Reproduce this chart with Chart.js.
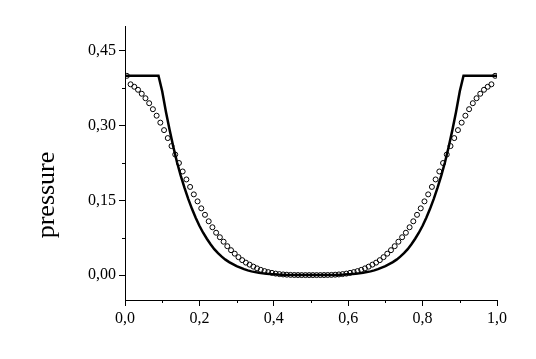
<!DOCTYPE html>
<html>
<head>
<meta charset="utf-8">
<script src="https://cdn.jsdelivr.net/npm/chart.js@4"></script>
<style>
  body { margin: 0; background: #fff; }
  canvas { display: block; }
</style>
</head>
<body>
<canvas id="pressureChart" width="536" height="359"></canvas>
<script>
// line: exact solution, x positions and pressure values
const lineX = [0, 0.09,
  0.10, 0.11, 0.12, 0.13, 0.14, 0.15, 0.16, 0.17, 0.18, 0.19,
  0.20, 0.21, 0.22, 0.23, 0.24, 0.25, 0.26, 0.27, 0.28, 0.29,
  0.30, 0.31, 0.32, 0.33, 0.34, 0.35, 0.36, 0.37, 0.38, 0.39,
  0.40, 0.41, 0.42, 0.43, 0.44, 0.45, 0.46, 0.47, 0.48, 0.49,
  0.50, 0.51, 0.52, 0.53, 0.54, 0.55, 0.56, 0.57, 0.58, 0.59,
  0.60, 0.61, 0.62, 0.63, 0.64, 0.65, 0.66, 0.67, 0.68, 0.69,
  0.70, 0.71, 0.72, 0.73, 0.74, 0.75, 0.76, 0.77, 0.78, 0.79,
  0.80, 0.81, 0.82, 0.83, 0.84, 0.85, 0.86, 0.87, 0.88, 0.89,
  0.90, 0.91, 1.0];
const lineP = [0.4, 0.4,
  0.369, 0.328, 0.291, 0.257, 0.226, 0.199, 0.175, 0.153, 0.133, 0.115,
  0.099, 0.085, 0.073, 0.062, 0.052, 0.044, 0.037, 0.031, 0.026, 0.022,
  0.018, 0.015, 0.012, 0.0095, 0.0075, 0.006, 0.0046, 0.0035, 0.0027, 0.002,
  0.0015, 0.001, 0.0007, 0.0004, 0.0002, 0.0001, 0, 0, 0, 0,
  0, 0, 0, 0, 0, 0.0001, 0.0002, 0.0004, 0.0007, 0.001,
  0.0015, 0.002, 0.0027, 0.0035, 0.0046, 0.006, 0.0075, 0.0095, 0.012, 0.015,
  0.018, 0.022, 0.026, 0.031, 0.037, 0.044, 0.052, 0.062, 0.073, 0.085,
  0.099, 0.115, 0.133, 0.153, 0.175, 0.199, 0.226, 0.257, 0.291, 0.328,
  0.369, 0.4, 0.4];

// circles: numerical solution
const circleX = [
  0.005, 0.015, 0.025, 0.035, 0.045, 0.055, 0.065, 0.075, 0.085, 0.095,
  0.105, 0.115, 0.125, 0.135, 0.145, 0.155, 0.165, 0.175, 0.185, 0.195,
  0.205, 0.215, 0.225, 0.235, 0.245, 0.255, 0.265, 0.275, 0.285, 0.295,
  0.305, 0.315, 0.325, 0.335, 0.345, 0.355, 0.365, 0.375, 0.385, 0.395,
  0.405, 0.415, 0.425, 0.435, 0.445, 0.455, 0.465, 0.475, 0.485, 0.495,
  0.505, 0.515, 0.525, 0.535, 0.545, 0.555, 0.565, 0.575, 0.585, 0.595,
  0.605, 0.615, 0.625, 0.635, 0.645, 0.655, 0.665, 0.675, 0.685, 0.695,
  0.705, 0.715, 0.725, 0.735, 0.745, 0.755, 0.765, 0.775, 0.785, 0.795,
  0.805, 0.815, 0.825, 0.835, 0.845, 0.855, 0.865, 0.875, 0.885, 0.895,
  0.905, 0.915, 0.925, 0.935, 0.945, 0.955, 0.965, 0.975, 0.985, 0.995];
const circleP = [
  0.400, 0.383, 0.378, 0.372, 0.364, 0.355, 0.345, 0.333, 0.320, 0.306,
  0.291, 0.275, 0.259, 0.242, 0.225, 0.208, 0.192, 0.177, 0.162, 0.148,
  0.134, 0.121, 0.108, 0.096, 0.085, 0.076, 0.067, 0.058, 0.050, 0.043,
  0.036, 0.030, 0.025, 0.021, 0.017, 0.0135, 0.0105, 0.008, 0.006, 0.0045,
  0.003, 0.002, 0.0013, 0.0008, 0.0004, 0.0002, 0.0001, 0, 0, 0,
  0, 0, 0, 0.0001, 0.0002, 0.0004, 0.0008, 0.0013, 0.002, 0.003,
  0.0045, 0.006, 0.008, 0.0105, 0.0135, 0.017, 0.021, 0.025, 0.030, 0.036,
  0.043, 0.050, 0.058, 0.067, 0.076, 0.085, 0.096, 0.108, 0.121, 0.134,
  0.148, 0.162, 0.177, 0.192, 0.208, 0.225, 0.242, 0.259, 0.275, 0.291,
  0.306, 0.320, 0.333, 0.345, 0.355, 0.364, 0.372, 0.378, 0.383, 0.400];

const xMajor = [0, 0.2, 0.4, 0.6, 0.8, 1.0];
const xMinor = [0.1, 0.3, 0.5, 0.7, 0.9];
const yMajor = [0, 0.15, 0.30, 0.45];
const yMinor = [0.075, 0.225, 0.375];
const yLabel = 'pressure';

const toPoints = (xs, ys) => xs.map((x, i) => ({ x: x, y: ys[i] }));
const commaLabel = digits => value => value.toFixed(digits).replace('.', ',');

const axisFont = { family: '"Liberation Serif", "Times New Roman", serif', size: 16 };

const minorTicksAndLabel = {
  id: 'minorTicksAndLabel',
  afterDraw(chart) {
    const ctx = chart.ctx;
    const xs = chart.scales.x;
    const ys = chart.scales.y;
    ctx.save();
    ctx.strokeStyle = '#000';
    ctx.lineWidth = 1;
    ctx.beginPath();
    xMinor.forEach(v => {
      const px = Math.round(xs.getPixelForValue(v)) + 0.5;
      ctx.moveTo(px, xs.top);
      ctx.lineTo(px, xs.top + 3);
    });
    yMinor.forEach(v => {
      const py = Math.round(ys.getPixelForValue(v)) + 0.5;
      ctx.moveTo(ys.right, py);
      ctx.lineTo(ys.right - 3, py);
    });
    ctx.stroke();

    // axis title sits below the middle of the axis, as in the original
    ctx.translate(54, 195);
    ctx.rotate(-Math.PI / 2);
    ctx.fillStyle = '#000';
    ctx.font = '26px "Liberation Serif", "Times New Roman", serif';
    ctx.textAlign = 'center';
    ctx.textBaseline = 'alphabetic';
    ctx.fillText(yLabel, 0, 0);
    ctx.restore();
  },
};

new Chart(document.getElementById('pressureChart'), {
  type: 'scatter',
  data: {
    datasets: [
      {
        data: toPoints(lineX, lineP),
        showLine: true,
        borderColor: '#000',
        borderWidth: 2.5,
        pointRadius: 0,
        tension: 0,
      },
      {
        data: toPoints(circleX, circleP),
        showLine: false,
        borderColor: '#000',
        backgroundColor: 'rgba(0,0,0,0)',
        borderWidth: 1,
        pointRadius: 2.5,
      },
    ],
  },
  options: {
    responsive: false,
    animation: false,
    layout: { padding: { left: 0, top: 26, right: 39, bottom: 29 } },
    plugins: {
      legend: { display: false },
      tooltip: { enabled: false },
    },
    scales: {
      x: {
        type: 'linear',
        min: 0,
        max: 1,
        afterBuildTicks: scale => { scale.ticks = xMajor.map(v => ({ value: v })); },
        afterFit: scale => { scale.height = 30; },
        grid: { drawOnChartArea: false, tickLength: 6, color: '#000' },
        border: { color: '#000', width: 1 },
        ticks: { color: '#000', font: axisFont, padding: 3, maxRotation: 0, callback: commaLabel(1) },
      },
      y: {
        type: 'linear',
        min: -0.05,
        max: 0.5,
        afterBuildTicks: scale => { scale.ticks = yMajor.map(v => ({ value: v })); },
        afterFit: scale => { scale.width = 125; },
        grid: { drawOnChartArea: false, tickLength: 6, color: '#000' },
        border: { color: '#000', width: 1 },
        ticks: { color: '#000', font: axisFont, padding: 3, callback: commaLabel(2) },
      },
    },
  },
  plugins: [minorTicksAndLabel],
});
</script>
</body>
</html>
